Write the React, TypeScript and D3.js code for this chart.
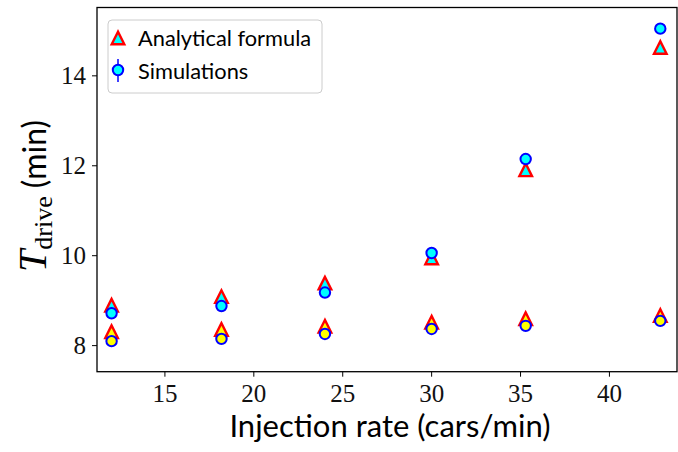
import * as d3 from "d3";

// injection rates (cars/min)
const rates = [12, 18.18, 24, 30, 35.29, 42.86];

// upper branch (cyan fill)
const analyticHigh = [8.9, 9.09, 9.39, 9.95, 11.91, 14.63];
const simHigh = [8.72, 8.88, 9.18, 10.06, 12.15, 15.05];

// lower branch (yellow fill)
const analyticLow = [8.31, 8.36, 8.43, 8.52, 8.6, 8.67];
const simLow = [8.1, 8.15, 8.26, 8.37, 8.44, 8.55];

const xTicks = [15, 20, 25, 30, 35, 40];
const yTicks = [8, 10, 12, 14];

const W = 678;
const H = 452;
const m = { left: 97, right: 677, top: 7.5, bottom: 371.7 };

const serif = "'Liberation Serif', 'DejaVu Serif', serif";
const sans = "Lato, 'Liberation Sans', sans-serif";

const tri = (h: number) => `M0,${-h}L${-h},${h}L${h},${h}Z`;

export default function App() {
  const x = d3.scaleLinear().domain([11.18, 43.8]).range([m.left, m.right]);
  const y = d3.scaleLinear().domain([7.42, 15.52]).range([m.bottom, m.top]);

  const triangles = (vals: number[], fill: string, key: string) =>
    vals.map((v, i) => (
      <path
        key={key + i}
        d={tri(6.3)}
        transform={`translate(${x(rates[i])},${y(v)})`}
        fill={fill}
        stroke="#ff0000"
        strokeWidth={2.4}
        strokeLinejoin="miter"
      />
    ));

  const circles = (vals: number[], fill: string, key: string) =>
    vals.map((v, i) => (
      <circle
        key={key + i}
        cx={x(rates[i])}
        cy={y(v)}
        r={5.2}
        fill={fill}
        stroke="#0000ff"
        strokeWidth={2}
      />
    ));

  return (
    <svg
      width={W}
      height={H}
      style={{ position: "absolute", left: 0, top: 0, background: "#fff" }}
    >
      {triangles(analyticHigh, "#00ffff", "ah")}
      {triangles(analyticLow, "#ffff00", "al")}
      {circles(simHigh, "#00ffff", "sh")}
      {circles(simLow, "#ffff00", "sl")}

      {/* frame */}
      <rect
        x={m.left}
        y={m.top}
        width={m.right - m.left}
        height={m.bottom - m.top}
        fill="none"
        stroke="#000"
        strokeWidth={1.3}
      />

      {/* x axis */}
      {xTicks.map((t) => (
        <g key={"xt" + t} transform={`translate(${x(t)},${m.bottom})`}>
          <line y2={5} stroke="#000" strokeWidth={1} />
          <text y={30.5} textAnchor="middle" fontFamily={serif} fontSize={25} fill="#111">
            {t}
          </text>
        </g>
      ))}
      <text
        x={(m.left + m.right) / 2 + 3}
        y={437}
        textAnchor="middle"
        fontFamily={sans}
        fontSize={31}
        fill="#000"
      >
        Injection rate (cars/min)
      </text>

      {/* y axis */}
      {yTicks.map((t) => (
        <g key={"yt" + t} transform={`translate(${m.left},${y(t)})`}>
          <line x2={-5} stroke="#000" strokeWidth={1} />
          <text x={-11} dy="0.34em" textAnchor="end" fontFamily={serif} fontSize={25} fill="#111">
            {t}
          </text>
        </g>
      ))}
      <text
        transform={`translate(46,196) rotate(-90)`}
        textAnchor="middle"
        fill="#000"
      >
        <tspan fontFamily={serif} fontStyle="italic" fontSize={40}>T</tspan>
        <tspan fontFamily={serif} fontSize={26} dy={6}>drive</tspan>
        <tspan fontFamily={sans} fontSize={32} dy={-6}> (min)</tspan>
      </text>

      {/* legend */}
      <g>
        <rect
          x={108}
          y={20}
          width={214}
          height={73}
          rx={4}
          fill="#fff"
          fillOpacity={0.8}
          stroke="#cccccc"
          strokeWidth={1}
        />
        <path
          d={tri(6.3)}
          transform="translate(118,38)"
          fill="#00ffff"
          stroke="#ff0000"
          strokeWidth={2.4}
        />
        <text x={138} y={46} fontFamily={sans} fontSize={21.8} fill="#000">
          Analytical formula
        </text>
        <line x1={118} x2={118} y1={59} y2={82} stroke="#0000ff" strokeWidth={1.5} />
        <circle cx={118} cy={70} r={5.2} fill="#00ffff" stroke="#0000ff" strokeWidth={2} />
        <text x={138} y={79} fontFamily={sans} fontSize={21.8} fill="#000">
          Simulations
        </text>
      </g>
    </svg>
  );
}
